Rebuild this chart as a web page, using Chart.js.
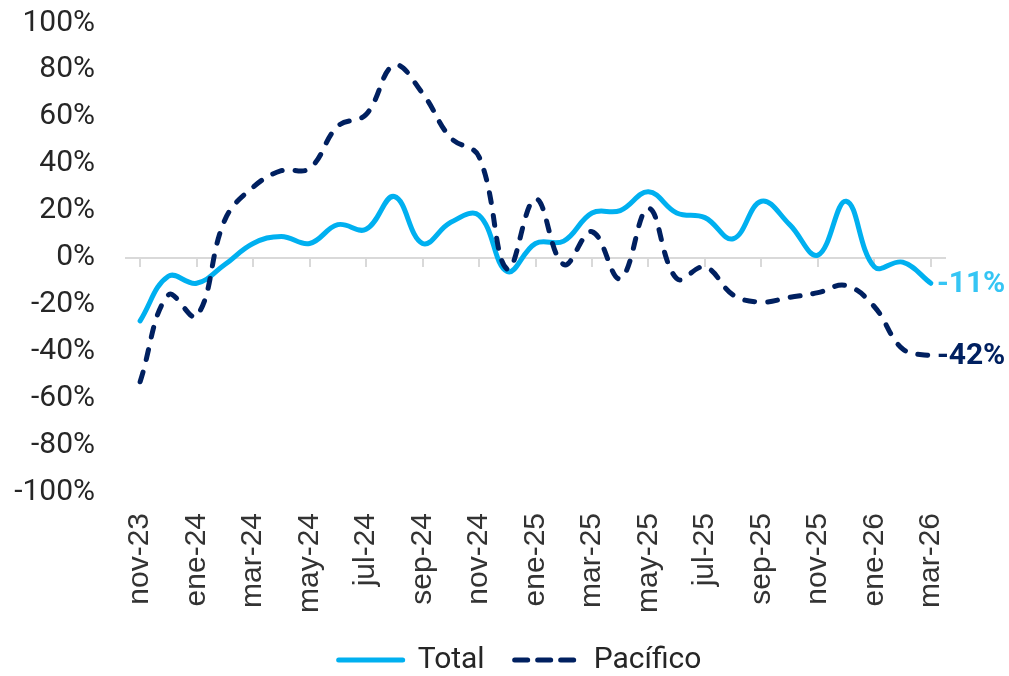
<!DOCTYPE html>
<html>
<head>
<meta charset="utf-8">
<script src="https://cdn.jsdelivr.net/npm/chart.js@4.4.1/dist/chart.umd.min.js"></script>
<style>
  html, body { margin: 0; padding: 0; background: #fff; }
  #wrap { width: 1009px; height: 676px; }
</style>
</head>
<body>
<div id="wrap"><canvas id="chart"></canvas></div>
<script>
const months = ['nov-23', 'dic-23', 'ene-24', 'feb-24', 'mar-24', 'abr-24', 'may-24', 'jun-24',
  'jul-24', 'ago-24', 'sep-24', 'oct-24', 'nov-24', 'dic-24', 'ene-25', 'feb-25', 'mar-25',
  'abr-25', 'may-25', 'jun-25', 'jul-25', 'ago-25', 'sep-25', 'oct-25', 'nov-25', 'dic-25',
  'ene-26', 'feb-26', 'mar-26'];

// variacion anual, %
const total = [-27, -8, -11, -3, 6, 9, 6, 14, 12, 26, 6, 15, 18, -6, 6, 7, 19, 20, 28, 19, 17,
  8, 24, 14, 1, 24, -4, -2, -11];
const pacifico = [-53, -16, -25, 16, 30, 37, 38, 56, 61, 82, 70, 51, 43, -5, 25, -3, 11, -9, 21,
  -9, -4, -16, -19, -17, -15, -12, -21, -39, -42];

const yMin = -100, yMax = 100, yStep = 20;

// etiqueta al final de cada serie
const endLabels = {
  id: 'endLabels',
  afterDatasetsDraw(chart) {
    const ctx = chart.ctx;
    chart.data.datasets.forEach((ds, i) => {
      const meta = chart.getDatasetMeta(i);
      const last = meta.data[meta.data.length - 1];
      ctx.save();
      ctx.font = 'bold 30px Roboto';
      ctx.fillStyle = ds.labelColor;
      ctx.textBaseline = 'middle';
      ctx.fillText(ds.data[ds.data.length - 1] + '%', last.x + 6, last.y + 1);
      ctx.restore();
    });
  }
};

new Chart(document.getElementById('chart'), {
  type: 'line',
  data: {
    labels: months,
    datasets: [
      {
        label: 'Total',
        data: total,
        borderColor: '#00B0F0',
        backgroundColor: '#00B0F0',
        borderWidth: 5,
        borderCapStyle: 'round',
        tension: 0.4,
        pointRadius: 0,
        order: 1,
        labelColor: '#35C5F4'
      },
      {
        label: 'Pacífico',
        data: pacifico,
        borderColor: '#002060',
        backgroundColor: '#002060',
        borderWidth: 5,
        borderDash: [10, 13],
        borderCapStyle: 'round',
        tension: 0.4,
        pointRadius: 0,
        order: 0,
        labelColor: '#002060'
      }
    ]
  },
  options: {
    responsive: true,
    maintainAspectRatio: false,
    animation: false,
    layout: { padding: { left: 0, right: -31, top: 23, bottom: -9 } },
    plugins: {
      legend: {
        position: 'bottom',
        labels: {
          usePointStyle: true,
          pointStyle: 'line',
          pointStyleWidth: 64,
          padding: 30,
          color: '#262626',
          font: { family: 'Roboto', size: 30 },
          // la leyenda del Pacífico lleva guiones más largos
          generateLabels: (chart) =>
            Chart.defaults.plugins.legend.labels.generateLabels(chart).map((item) => {
              const ds = chart.data.datasets[item.datasetIndex];
              return { ...item, lineDash: ds.borderDash ? [13, 10] : [], lineCap: 'round', lineWidth: 5 };
            }),
          sort: (a, b) => a.datasetIndex - b.datasetIndex
        }
      },
      tooltip: { enabled: false }
    },
    scales: {
      x: {
        offset: true,
        grid: { display: false, drawTicks: false },
        border: { display: false },
        ticks: {
          autoSkip: false,
          minRotation: 90,
          maxRotation: 90,
          padding: 21,
          color: '#333333',
          font: { family: 'Liberation Sans', size: 30 },
          callback: (v, i) => (i % 2 === 0 ? months[i] : '')
        },
        afterFit: (s) => { s.height = 123; }
      },
      x0: {
        type: 'category',
        position: { y: 0 },
        offset: true,
        grid: {
          display: true,
          drawOnChartArea: false,
          drawTicks: true,
          tickLength: 8,
          lineWidth: 2,
          color: (c) => (c.index % 2 === 0 ? '#D9D9D9' : 'rgba(0,0,0,0)')
        },
        border: { display: true, color: '#D9D9D9', width: 2 },
        ticks: { display: false, autoSkip: false }
      },
      y: {
        min: yMin,
        max: yMax,
        grid: { display: false, drawTicks: true, tickLength: 31 },
        border: { display: false },
        ticks: {
          stepSize: yStep,
          padding: 0,
          color: '#262626',
          font: { family: 'Roboto', size: 30 },
          callback: (v) => v + '%'
        },
        afterFit: (s) => { s.width = 126; }
      },
      yRight: {
        position: 'right',
        grid: { display: false },
        border: { display: false },
        ticks: { display: false },
        afterFit: (s) => { s.width = 95; }
      }
    }
  },
  plugins: [endLabels]
});
</script>
</body>
</html>
